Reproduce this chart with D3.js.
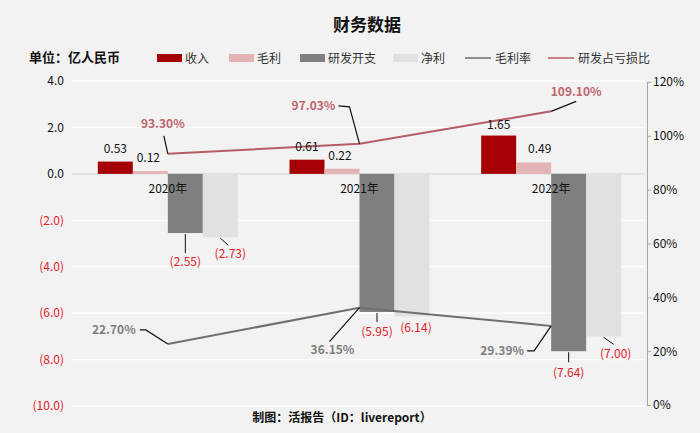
<!DOCTYPE html>
<html>
<head>
<meta charset="utf-8">
<script src="https://cdn.jsdelivr.net/npm/d3@7"></script>
<style>
  body { margin: 0; background: #f2f2f2; }
  svg { font-family: "Noto Sans CJK SC", "Noto Sans", sans-serif; }
</style>
</head>
<body>
<svg id="chart" width="700" height="433"></svg>
<script>
// data
var years = ["2020年", "2021年", "2022年"];
var revenue = [0.53, 0.61, 1.65];      // 收入
var grossProfit = [0.12, 0.22, 0.49];  // 毛利
var rdSpend = [-2.55, -5.95, -7.64];   // 研发开支
var netProfit = [-2.73, -6.14, -7.00]; // 净利
var grossMargin = [0.2270, 0.3615, 0.2939]; // 毛利率
var rdLossRatio = [0.9330, 0.9703, 1.0910]; // 研发占亏损比
var leftTicks = [4, 2, 0, -2, -4, -6, -8, -10];
var rightTicks = [0, 0.2, 0.4, 0.6, 0.8, 1.0, 1.2];

var barSeries = [
  { name: "收入", values: revenue, color: "#a50006" },
  { name: "毛利", values: grossProfit, color: "#e4b3b5" },
  { name: "研发开支", values: rdSpend, color: "#7f7f7f" },
  { name: "净利", values: netProfit, color: "#e1e1e1" }
];

var svg = d3.select("#chart");
var pLeft = 72, pRight = 647, pTop = 81, pBottom = 406;

var x = d3.scaleBand().domain(years).range([pLeft, pRight]);
var groupW = 140;
var x1 = d3.scaleBand().domain(barSeries.map(function(d) { return d.name; }))
  .range([0, groupW]);
var yL = d3.scaleLinear().domain([-10, 4]).range([pBottom, pTop]);
var yR = d3.scaleLinear().domain([0, 1.2]).range([405, 82]);

var cx = function(i) { return x(years[i]) + x.bandwidth() / 2; };
var gx = function(i) { return x(years[i]) + (x.bandwidth() - groupW) / 2; };

// title + unit
svg.append("text").attr("x", 367).attr("y", 31).attr("text-anchor", "middle")
  .attr("font-size", 17).attr("font-weight", "bold").attr("fill", "#111").text("财务数据");
svg.append("text").attr("x", 29).attr("y", 62)
  .attr("font-size", 13).attr("font-weight", "bold").attr("fill", "#111").text("单位：亿人民币");

// legend
var legendItems = [
  { name: "收入", color: "#a50006", type: "rect", x: 157 },
  { name: "毛利", color: "#e4b3b5", type: "rect", x: 229 },
  { name: "研发开支", color: "#7f7f7f", type: "rect", x: 300 },
  { name: "净利", color: "#e1e1e1", type: "rect", x: 393 },
  { name: "毛利率", color: "#6f6f6f", type: "line", x: 465 },
  { name: "研发占亏损比", color: "#b65c66", type: "line", x: 548 }
];
var leg = svg.append("g").selectAll("g").data(legendItems).enter().append("g")
  .attr("transform", function(d) { return "translate(" + d.x + ",58)"; });
leg.filter(function(d) { return d.type === "rect"; }).append("rect")
  .attr("x", 0).attr("y", -4).attr("width", 25).attr("height", 8)
  .attr("fill", function(d) { return d.color; });
leg.filter(function(d) { return d.type === "line"; }).append("line")
  .attr("x1", 0).attr("x2", 26).attr("y1", 0).attr("y2", 0)
  .attr("stroke", function(d) { return d.color; }).attr("stroke-width", 1.5);
leg.append("text").attr("x", function(d) { return d.type === "rect" ? 28 : 30; })
  .attr("y", 4.5).attr("font-size", 12).attr("fill", "#333")
  .text(function(d) { return d.name; });

// gridlines
svg.append("g").selectAll("line").data(leftTicks).enter().append("line")
  .attr("x1", pLeft).attr("x2", pRight - 2)
  .attr("y1", function(d) { return yL(d); }).attr("y2", function(d) { return yL(d); })
  .attr("stroke", function(d) { return d === 0 ? "#d9d9d9" : "#ffffff"; })
  .attr("stroke-width", 1.3);

// left axis labels
var fmtL = function(d) {
  return d < 0 ? "(" + d3.format(".1f")(-d) + ")" : d3.format(".1f")(d);
};
var yAxisL = d3.axisLeft(yL).tickValues(leftTicks).tickFormat(fmtL).tickSize(0).tickPadding(0);
var gL = svg.append("g").attr("transform", "translate(64,0)").call(yAxisL);
gL.select(".domain").remove();
gL.selectAll("text").attr("font-size", 12).attr("font-family", "Noto Sans CJK SC")
  .attr("fill", function(d) { return d < 0 ? "#e3202a" : "#111"; });

// right axis
var yAxisR = d3.axisRight(yR).tickValues(rightTicks).tickFormat(d3.format(".0%"))
  .tickSize(4).tickSizeOuter(0).tickPadding(2);
var gR = svg.append("g").attr("transform", "translate(" + pRight + ",0)").call(yAxisR);
gR.select(".domain").attr("stroke", "#a6a6a6");
gR.selectAll(".tick line").attr("stroke", "#a6a6a6");
gR.selectAll("text").attr("font-size", 12).attr("font-family", "Noto Sans CJK SC").attr("fill", "#111");

// bars
barSeries.forEach(function(s) {
  svg.append("g").selectAll("rect").data(s.values).enter().append("rect")
    .attr("x", function(d, i) { return gx(i) + x1(s.name); })
    .attr("width", x1.bandwidth())
    .attr("y", function(d) { return yL(Math.max(0, d)); })
    .attr("height", function(d) { return Math.abs(yL(d) - yL(0)); })
    .attr("fill", s.color);
});

// category labels
svg.append("g").selectAll("text").data(years).enter().append("text")
  .attr("x", function(d, i) { return cx(i); }).attr("y", 193)
  .attr("text-anchor", "middle").attr("font-size", 12).attr("fill", "#111")
  .text(function(d) { return d; });

// lines
var lineGen = function(scale) {
  return d3.line().x(function(d, i) { return cx(i); }).y(function(d) { return scale(d); });
};
svg.append("path").datum(grossMargin).attr("d", lineGen(yR))
  .attr("fill", "none").attr("stroke", "#6f6f6f").attr("stroke-width", 2);
svg.append("path").datum(rdLossRatio).attr("d", lineGen(yR))
  .attr("fill", "none").attr("stroke", "#b65c66").attr("stroke-width", 2);

// bar value labels; offsets are label placement relative to the bar end
var fmtV = function(d) {
  return d < 0 ? "(" + d3.format(".2f")(-d) + ")" : d3.format(".2f")(d);
};
var barLabelOffsets = [
  [[0, -13], [0, -13], [0, -11]],
  [[-2, -13], [-2, -13], [6, -13]],
  [[0, 29, 20], [0, 20, 10], [0, 22, 11]],
  [[10, 17, 8, "d"], [4, 12], [12, 18, 8, "d"]]
];
barSeries.forEach(function(s, k) {
  s.values.forEach(function(v, i) {
    var bx = gx(i) + x1(s.name) + x1.bandwidth() / 2;
    var by = yL(v);
    var o = barLabelOffsets[k][i];
    if (o.length > 2) {
      svg.append("line").attr("x1", bx).attr("y1", by + 1)
        .attr("x2", o[3] ? bx + o[0] - 2 : bx).attr("y2", by + o[2])
        .attr("stroke", "#111").attr("stroke-width", 1);
    }
    svg.append("text").attr("x", bx + o[0]).attr("y", by + o[1] + 4)
      .attr("text-anchor", "middle").attr("font-size", 12)
      .attr("fill", v < 0 ? "#e3202a" : "#111").text(fmtV(v));
  });
});

// line value labels with leader lines (points relative to the data point)
var fmtP = d3.format(".2%");
var lineLabels = [
  { values: rdLossRatio, color: "#c0646e", offsets: [
    { lx: -5, ly: -30, path: [[0, 0], [-4, -18]] },
    { lx: -46, ly: -38, path: [[0, 0], [-10, -37], [-21, -38]] },
    { lx: 25, ly: -20, path: [[0, 0], [25, -10]] }
  ]},
  { values: grossMargin, color: "#7f7f7f", offsets: [
    { lx: -54, ly: -14, path: [[0, 0], [-22, -14], [-28, -14]] },
    { lx: -27, ly: 42, path: [[0, 0], [-30, 34]] },
    { lx: -49, ly: 25, path: [[0, 0], [-17, 25], [-24, 25]] }
  ]}
];
lineLabels.forEach(function(L) {
  L.values.forEach(function(v, i) {
    var px = cx(i), py = yR(v), o = L.offsets[i];
    svg.append("path")
      .attr("d", d3.line()(o.path.map(function(p) { return [px + p[0], py + p[1]]; })))
      .attr("fill", "none").attr("stroke", "#111").attr("stroke-width", 1.2);
    svg.append("text").attr("x", px + o.lx).attr("y", py + o.ly + 4.5)
      .attr("text-anchor", "middle").attr("font-size", 12).attr("font-weight", "bold")
      .attr("fill", L.color).text(fmtP(v));
  });
});

// footer
svg.append("text").attr("x", 342).attr("y", 422).attr("text-anchor", "middle")
  .attr("font-size", 12).attr("font-weight", "bold").attr("fill", "#111")
  .text("制图：活报告（ID：livereport）");
</script>
</body>
</html>
